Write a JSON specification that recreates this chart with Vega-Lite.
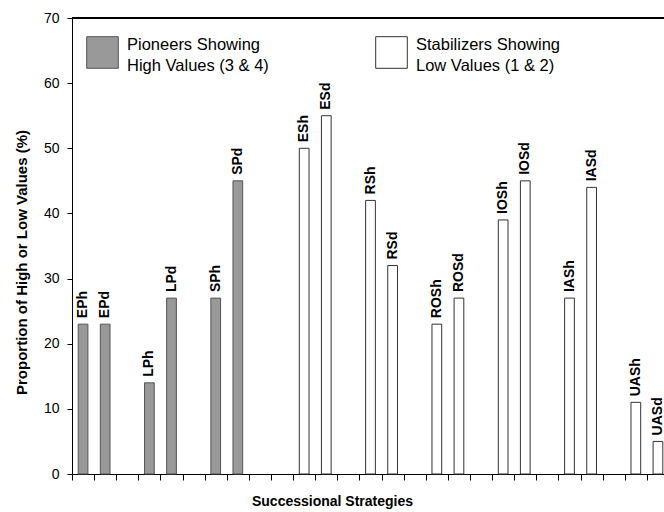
{
  "$schema": "https://vega.github.io/schema/vega-lite/v6.json",
  "width": 592,
  "height": 456,
  "autosize": {"type": "none"},
  "padding": {"left": 72, "top": 18, "right": 0, "bottom": 38},
  "background": "white",
  "config": {
    "view": {"stroke": null},
    "font": "Liberation Sans",
    "axis": {"domainColor": "black", "tickColor": "black", "labelColor": "black", "titleColor": "black", "grid": false},
    "style": {"guide-label": {"lineHeight": 21}}
  },
  "data": {
    "values": [
      {"strategy": "EPh", "value": 23, "group": "Pioneers Showing High Values (3 & 4)"},
      {"strategy": "EPd", "value": 23, "group": "Pioneers Showing High Values (3 & 4)"},
      {"strategy": "LPh", "value": 14, "group": "Pioneers Showing High Values (3 & 4)"},
      {"strategy": "LPd", "value": 27, "group": "Pioneers Showing High Values (3 & 4)"},
      {"strategy": "SPh", "value": 27, "group": "Pioneers Showing High Values (3 & 4)"},
      {"strategy": "SPd", "value": 45, "group": "Pioneers Showing High Values (3 & 4)"},
      {"strategy": "ESh", "value": 50, "group": "Stabilizers Showing Low Values (1 & 2)"},
      {"strategy": "ESd", "value": 55, "group": "Stabilizers Showing Low Values (1 & 2)"},
      {"strategy": "RSh", "value": 42, "group": "Stabilizers Showing Low Values (1 & 2)"},
      {"strategy": "RSd", "value": 32, "group": "Stabilizers Showing Low Values (1 & 2)"},
      {"strategy": "ROSh", "value": 23, "group": "Stabilizers Showing Low Values (1 & 2)"},
      {"strategy": "ROSd", "value": 27, "group": "Stabilizers Showing Low Values (1 & 2)"},
      {"strategy": "IOSh", "value": 39, "group": "Stabilizers Showing Low Values (1 & 2)"},
      {"strategy": "IOSd", "value": 45, "group": "Stabilizers Showing Low Values (1 & 2)"},
      {"strategy": "IASh", "value": 27, "group": "Stabilizers Showing Low Values (1 & 2)"},
      {"strategy": "IASd", "value": 44, "group": "Stabilizers Showing Low Values (1 & 2)"},
      {"strategy": "UASh", "value": 11, "group": "Stabilizers Showing Low Values (1 & 2)"},
      {"strategy": "UASd", "value": 5, "group": "Stabilizers Showing Low Values (1 & 2)"}
    ]
  },
  "encoding": {
    "x": {
      "field": "strategy",
      "type": "nominal",
      "sort": null,
      "scale": {
        "domain": ["EPh","EPd","g1","LPh","LPd","g2","SPh","SPd","g3","g4","ESh","ESd","g5","RSh","RSd","g6","ROSh","ROSd","g7","IOSh","IOSd","g8","IASh","IASd","g9","UASh","UASd"],
        "range": [0, 597],
        "paddingInner": 0,
        "paddingOuter": 0
      },
      "axis": {
        "labels": false,
        "tickBand": "extent",
        "tickSize": 6,
        "title": "Successional Strategies",
        "titleFontWeight": "bold",
        "titleFontSize": 14,
        "titlePadding": 14,
        "titleX": 260
      }
    },
    "y": {
      "field": "value",
      "type": "quantitative",
      "scale": {"domain": [0, 70]},
      "axis": {
        "values": [0, 10, 20, 30, 40, 50, 60, 70],
        "tickSize": 5,
        "labelFontSize": 14,
        "labelPadding": 8,
        "title": "Proportion of High  or Low  Values (%)",
        "titleFontWeight": "bold",
        "titleFontSize": 15,
        "titlePadding": 14,
        "titleY": 244
      }
    }
  },
  "layer": [
    {
      "mark": {"type": "rule", "color": "black", "strokeWidth": 1},
      "encoding": {"y": {"datum": 70}, "x": null}
    },
    {
      "mark": {"type": "bar", "strokeWidth": 1, "width": {"band": 0.44}},
      "encoding": {
        "fill": {
          "field": "group",
          "type": "nominal",
          "scale": {"domain": ["Pioneers Showing High Values (3 & 4)", "Stabilizers Showing Low Values (1 & 2)"], "range": ["#999999", "#ffffff"]},
          "legend": {
            "orient": "none",
            "legendX": 14,
            "legendY": 18,
            "direction": "horizontal",
            "columns": 2,
            "columnPadding": 104,
            "symbolType": "square",
            "symbolSize": 1000,
            "symbolStrokeWidth": 1,
            "symbolStrokeColor": "#333333",
            "labelFontSize": 16.5,
            "labelColor": "black",
            "labelOffset": 8,
            "labelLimit": 400,
            "labelBaseline": "bottom",
            "labelExpr": "datum.label == 'Pioneers Showing High Values (3 & 4)' ? ['Pioneers Showing', 'High Values (3 & 4)'] : ['Stabilizers Showing', 'Low Values (1 & 2)']",
            "title": null
          }
        },
        "stroke": {
          "field": "group",
          "type": "nominal",
          "scale": {"domain": ["Pioneers Showing High Values (3 & 4)", "Stabilizers Showing Low Values (1 & 2)"], "range": ["#555555", "#333333"]},
          "legend": null
        }
      }
    },
    {
      "mark": {"type": "text", "angle": 270, "align": "left", "baseline": "middle", "dx": 6, "fontWeight": "bold", "fontSize": 14, "color": "black"},
      "encoding": {"text": {"field": "strategy"}}
    }
  ]
}
